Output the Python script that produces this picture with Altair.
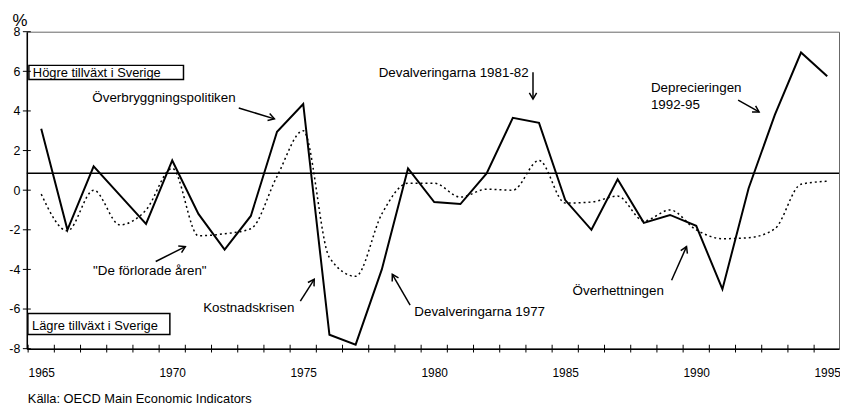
import math
import altair as alt
import pandas as pd

# ---------------- data ----------------
years = list(range(1965, 1996))
sverige = [3.1, -2.0, 1.2, -0.25, -1.7, 1.5, -1.2, -3.0, -1.3, 2.95,
           4.35, -7.3, -7.8, -4.0, 1.1, -0.6, -0.7, 0.85, 3.65, 3.4,
           -0.5, -2.0, 0.55, -1.65, -1.25, -1.8, -5.0, 0.1, 3.8, 6.95, 5.75]
oecd = [-0.2, -2.05, 0.0, -1.75, -1.0, 1.1, -2.3, -2.2, -1.95, 0.7,
        3.0, -3.4, -4.35, -1.2, 0.35, 0.35, -0.35, 0.05, 0.0, 1.5,
        -0.65, -0.6, -0.3, -1.55, -1.0, -2.0, -2.45, -2.4, -1.95, 0.3, 0.45]
mean_level = [0.85]
y_tick_values = [-8, -6, -4, -2, 0, 2, 4, 6, 8]

ann_text = ["Överbryggningspolitiken", '"De förlorade åren"', "Kostnadskrisen",
            "Devalveringarna 1977", "Devalveringarna 1981-82", "Deprecieringen",
            "1992-95", "Överhettningen"]
ann_x = [1966.95, 1966.98, 1971.18, 1979.24, 1977.88, 1988.27, 1988.27, 1985.28]
ann_y = [4.65, -4.1, -5.95, -6.15, 5.9, 5.15, 4.3, -5.1]

arrow_x1 = [1972.54, 1969.37, 1974.89, 1979.08, 1983.77, 1991.60, 1989.06]
arrow_y1 = [4.15, -3.6, -5.6, -5.8, 5.95, 4.55, -4.55]
arrow_x2 = [1973.90, 1970.50, 1975.42, 1978.40, 1983.77, 1992.40, 1989.63]
arrow_y2 = [3.6, -2.85, -4.5, -4.25, 4.6, 3.95, -2.85]

box_text = ["Högre tillväxt i Sverige", "Lägre tillväxt i Sverige"]
box_x1 = [1964.53, 1964.49]
box_x2 = [1970.43, 1969.91]
box_y1 = [6.3, -6.22]
box_y2 = [5.585, -7.29]
box_tx = [1964.68, 1964.65]
box_ty = [5.9, -6.85]

unit_text = ["%"]
unit_x = [1964.19]
unit_y = [8.55]
source_text = ["Källa: OECD Main Economic Indicators"]
source_x = [1964.49]
source_y = [-10.55]

# ---------------- layout ----------------
W, H = 820, 320
FONT = "Liberation Sans"
x_dom = [1964.45, 1995.45]
y_dom = [-8, 8]
xs = alt.Scale(domain=x_dom, nice=False, zero=False)
ys = alt.Scale(domain=y_dom, nice=False, zero=False)
px_per_year = W / (x_dom[1] - x_dom[0])
px_per_unit = H / (y_dom[1] - y_dom[0])

df = pd.DataFrame({"year": years, "sverige": sverige, "oecd": oecd})
half_ticks = [y - 0.5 for y in years]
xt_df = pd.DataFrame({"v": half_ticks, "base": [y_dom[0]] * len(half_ticks)})
yt_df = pd.DataFrame({"v": y_tick_values, "base": [x_dom[0]] * len(y_tick_values)})

ann = pd.DataFrame({"t": ann_text, "x": ann_x, "y": ann_y})
angles = []
for a, b, c, d in zip(arrow_x1, arrow_y1, arrow_x2, arrow_y2):
    dx = (c - a) * px_per_year
    dy = -(d - b) * px_per_unit
    angles.append((math.degrees(math.atan2(dx, -dy)) + 360) % 360)
arr = pd.DataFrame({"x1": arrow_x1, "y1": arrow_y1, "x2": arrow_x2,
                    "y2": arrow_y2, "ang": angles})
boxes = pd.DataFrame({"t": box_text, "x1": box_x1, "x2": box_x2, "y1": box_y1,
                      "y2": box_y2, "tx": box_tx, "ty": box_ty})
unit_df = pd.DataFrame({"t": unit_text, "x": unit_x, "y": unit_y})
source_df = pd.DataFrame({"t": source_text, "x": source_x, "y": source_y})
mean_df = pd.DataFrame({"m": mean_level})

x_bottom = alt.Axis(values=years,
                    labelExpr="datum.value % 5 == 0 ? toString(datum.value) : ''",
                    ticks=False, labelPadding=19,
                    labelFontSize=12, labelFont=FONT, labelColor="black",
                    domainColor="black", domainWidth=1.5,
                    title=None, grid=False, labelFlush=False, labelOverlap=False)
y_left = alt.Axis(values=y_tick_values, ticks=False, labelPadding=7,
                  labelExpr="toString(datum.value)",
                  labelFontSize=12.5, labelFont=FONT, labelColor="black",
                  domainColor="black", domainWidth=1.5,
                  title=None, grid=False, labelOverlap=False)

solid = alt.Chart(df).mark_line(color="black", strokeWidth=2).encode(
    x=alt.X("year:Q", scale=xs, axis=x_bottom),
    y=alt.Y("sverige:Q", scale=ys, axis=y_left),
)
dotted = alt.Chart(df).mark_line(color="black", strokeWidth=1.5, strokeDash=[2, 3],
                                 interpolate="monotone").encode(
    x=alt.X("year:Q", scale=xs, axis=None),
    y=alt.Y("oecd:Q", scale=ys, axis=None),
)
x_ticks = alt.Chart(xt_df).mark_tick(orient="vertical", size=8, thickness=1,
                                     color="black", opacity=1).encode(
    x=alt.X("v:Q", scale=xs, axis=None),
    y=alt.Y("base:Q", scale=ys, axis=None),
)
y_ticks = alt.Chart(yt_df).mark_tick(orient="horizontal", size=8, thickness=1,
                                     color="black", opacity=1).encode(
    y=alt.Y("v:Q", scale=ys, axis=None),
    x=alt.X("base:Q", scale=xs, axis=None),
)
mean_rule = alt.Chart(mean_df).mark_rule(color="black", strokeWidth=1.5).encode(
    y=alt.Y("m:Q", scale=ys, axis=None),
)
box_rect = alt.Chart(boxes).mark_rect(fill="white", stroke="black", strokeWidth=1.5).encode(
    x=alt.X("x1:Q", scale=xs, axis=None), x2="x2:Q",
    y=alt.Y("y1:Q", scale=ys, axis=None), y2="y2:Q",
)
box_lbl = alt.Chart(boxes).mark_text(align="left", baseline="middle", font=FONT,
                                     fontSize=13, color="black").encode(
    x=alt.X("tx:Q", scale=xs, axis=None),
    y=alt.Y("ty:Q", scale=ys, axis=None),
    text="t:N",
)
shafts = alt.Chart(arr).mark_rule(color="black", strokeWidth=1.5).encode(
    x=alt.X("x1:Q", scale=xs, axis=None), x2="x2:Q",
    y=alt.Y("y1:Q", scale=ys, axis=None), y2="y2:Q",
)
heads = alt.Chart(arr).mark_point(shape="M -0.6 1 L 0 0 L 0.6 1", filled=False,
                                  stroke="black", strokeWidth=1.5, size=150,
                                  opacity=1).encode(
    x=alt.X("x2:Q", scale=xs, axis=None),
    y=alt.Y("y2:Q", scale=ys, axis=None),
    angle=alt.Angle("ang:Q", scale=None),
)
ann_lbl = alt.Chart(ann).mark_text(align="left", baseline="middle", font=FONT,
                                   fontSize=13.5, color="black").encode(
    x=alt.X("x:Q", scale=xs, axis=None),
    y=alt.Y("y:Q", scale=ys, axis=None),
    text="t:N",
)
unit_lbl = alt.Chart(unit_df).mark_text(align="center", baseline="middle", font=FONT,
                                        fontSize=17, color="black").encode(
    x=alt.X("x:Q", scale=xs, axis=None),
    y=alt.Y("y:Q", scale=ys, axis=None),
    text="t:N",
)
source_lbl = alt.Chart(source_df).mark_text(align="left", baseline="middle", font=FONT,
                                            fontSize=13, color="black").encode(
    x=alt.X("x:Q", scale=xs, axis=None),
    y=alt.Y("y:Q", scale=ys, axis=None),
    text="t:N",
)

chart = alt.layer(
    solid, box_rect, mean_rule, dotted, x_ticks, y_ticks, shafts, heads,
    box_lbl, ann_lbl, unit_lbl, source_lbl
).resolve_axis(x="independent", y="independent").properties(
    width=W, height=H,
    padding={"left": 19, "top": 22, "right": 1, "bottom": 58},
    autosize=alt.AutoSizeParams(type="none"),
    background="white",
).configure_view(stroke="#666", strokeWidth=1)

chart.save("out.html", embed_options={"renderer": "svg", "actions": False})
